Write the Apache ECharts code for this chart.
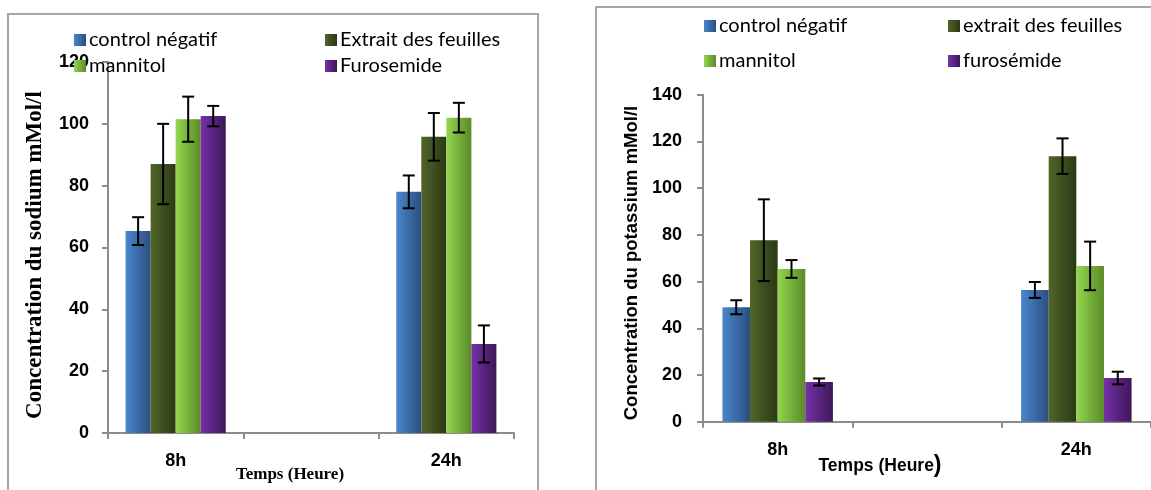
<!DOCTYPE html>
<html>
<head>
<meta charset="utf-8">
<script src="https://cdn.jsdelivr.net/npm/echarts@6/dist/echarts.min.js"></script>
<style>
  html, body { margin: 0; padding: 0; background: #fff; }
  #chart { width: 1151px; height: 490px; }
</style>
</head>
<body>
<div id="chart"></div>
<script>
// Time points (middle slot is an empty spacer category)
const categories = ['8h', '', '24h'];

// Sodium (mMol/l) — means and standard errors
const naControl   = [65.3, null, 78.0];
const naControlErr = [4.5, null, 5.3];
const naExtrait   = [87.0, null, 95.8];
const naExtraitErr = [13.0, null, 7.7];
const naMannitol  = [101.5, null, 102.0];
const naMannitolErr = [7.3, null, 4.8];
const naFuro      = [102.5, null, 28.8];
const naFuroErr   = [3.3, null, 6.0];

// Potassium (mMol/l) — means and standard errors
const kControl    = [49.0, null, 56.4];
const kControlErr = [3.0, null, 3.4];
const kExtrait    = [77.7, null, 113.7];
const kExtraitErr = [17.5, null, 7.6];
const kMannitol   = [65.4, null, 66.7];
const kMannitolErr = [3.8, null, 10.4];
const kFuro       = [17.0, null, 18.7];
const kFuroErr    = [1.5, null, 2.7];

const naNames = ['control négatif', 'Extrait des feuilles', 'mannitol', 'Furosemide'];
const kNames  = ['control négatif', 'extrait des feuilles', 'mannitol', 'furosémide'];

const naTicks = [0, 20, 40, 60, 80, 100, 120];
const kTicks  = [0, 20, 40, 60, 80, 100, 120, 140];

function grad(a, b) {
  return new echarts.graphic.LinearGradient(0, 0, 1, 0, [
    { offset: 0, color: a }, { offset: 1, color: b }
  ]);
}
const fills = [
  grad('#4a86cc', '#2a4f80'),
  grad('#506529', '#2b3914'),
  grad('#93d64e', '#5a8a28'),
  grad('#7531a8', '#3d1757')
];

const GAP = 0.26;
const axisGray = '#8c8c8c';
const legendFont = 'Lato, "Liberation Sans", sans-serif';
const sans = '"Liberation Sans", Arial, sans-serif';
const serif = '"Liberation Serif", "DejaVu Serif", serif';

function errorRows(errs, vals) {
  const rows = [];
  vals.forEach((v, s) => {
    v.forEach((val, c) => {
      if (val != null) rows.push([c, val, errs[s][c], s]);
    });
  });
  return rows;
}

function errorSeries(idx, rows) {
  return {
    type: 'custom',
    xAxisIndex: idx, yAxisIndex: idx,
    z: 5,
    silent: true,
    data: rows,
    encode: { x: 0, y: 1 },
    renderItem: function (params, api) {
      const c = api.value(0), v = api.value(1), e = api.value(2), s = api.value(3);
      const band = api.size([1, 0])[0];
      const bw = band * (1 - GAP) / 4;
      const x = api.coord([c, v])[0] + (s - 1.5) * bw;
      const yt = api.coord([c, v + e])[1];
      const yb = api.coord([c, v - e])[1];
      const h = 6;
      const st = { stroke: '#000', lineWidth: 2 };
      return {
        type: 'group',
        children: [
          { type: 'line', shape: { x1: x, y1: yt, x2: x, y2: yb }, style: st },
          { type: 'line', shape: { x1: x - h, y1: yt, x2: x + h, y2: yt }, style: st },
          { type: 'line', shape: { x1: x - h, y1: yb, x2: x + h, y2: yb }, style: st }
        ]
      };
    }
  };
}

function barSeries(idx, names, vals) {
  return vals.map((v, i) => ({
    type: 'bar',
    name: names[i],
    xAxisIndex: idx, yAxisIndex: idx,
    data: v,
    barGap: '0%',
    barCategoryGap: (GAP * 100) + '%',
    itemStyle: { color: fills[i] },
    emphasis: { disabled: true }
  }));
}

function legendItem(name, left, cy) {
  return {
    data: [name],
    left: left, top: cy - 10,
    padding: 0,
    itemWidth: 12, itemHeight: 12,
    icon: 'rect',
    selectedMode: false,
    textStyle: { fontFamily: legendFont, fontSize: 20, color: '#000', lineHeight: 20, padding: [0, 0, 0, -2] }
  };
}

function xAxis(idx) {
  return {
    type: 'category', gridIndex: idx, data: categories,
    axisLine: { lineStyle: { color: axisGray, width: 2 } },
    axisTick: { show: true, interval: 0, length: 6, lineStyle: { color: axisGray, width: 2 } },
    axisLabel: { interval: 0, margin: 19, fontFamily: sans, fontWeight: 'bold', fontSize: 18, color: '#000' }
  };
}

function yAxis(idx, ticks, margin) {
  return {
    type: 'value', gridIndex: idx,
    min: ticks[0], max: ticks[ticks.length - 1], interval: ticks[1] - ticks[0],
    splitLine: { show: false },
    axisLine: { show: true, lineStyle: { color: axisGray, width: 2 } },
    axisTick: { show: true, length: 6, lineStyle: { color: axisGray, width: 2 } },
    axisLabel: { margin: margin, fontFamily: sans, fontWeight: 'bold', fontSize: 18, color: '#000' }
  };
}

const naVals = [naControl, naExtrait, naMannitol, naFuro];
const naErrs = [naControlErr, naExtraitErr, naMannitolErr, naFuroErr];
const kVals = [kControl, kExtrait, kMannitol, kFuro];
const kErrs = [kControlErr, kExtraitErr, kMannitolErr, kFuroErr];

const chart = echarts.init(document.getElementById('chart'), null, { renderer: 'canvas' });
chart.setOption({
  animation: false,
  backgroundColor: '#fff',
  grid: [
    { left: 108, top: 62, width: 406, height: 371 },
    { left: 703, top: 94.7, width: 456, height: 327 }
  ],
  xAxis: [xAxis(0), xAxis(1)],
  yAxis: [yAxis(0, naTicks, 19), yAxis(1, kTicks, 21)],
  legend: [
    legendItem(naNames[0], 74, 40),
    legendItem(naNames[1], 325, 40),
    legendItem(naNames[2], 74, 66),
    legendItem(naNames[3], 325, 66),
    legendItem(kNames[0], 704, 26),
    legendItem(kNames[1], 948, 26),
    legendItem(kNames[2], 704, 61),
    legendItem(kNames[3], 948, 61)
  ],
  graphic: [
    { type: 'rect', z: -10, shape: { x: 8, y: 14, width: 530, height: 500 },
      style: { fill: 'none', stroke: '#a6a6a6', lineWidth: 2 } },
    { type: 'rect', z: -10, shape: { x: 596, y: 7, width: 600, height: 500 },
      style: { fill: 'none', stroke: '#a6a6a6', lineWidth: 2 } },
    { type: 'text', x: 35, y: 255, rotation: Math.PI / 2,
      style: { text: 'Concentration du sodium mMol/l', font: 'bold 23px ' + serif, fill: '#000',
               textAlign: 'center', textVerticalAlign: 'middle' } },
    { type: 'text', x: 290, y: 475,
      style: { text: 'Temps (Heure)', font: 'bold 17px ' + serif, fill: '#000',
               textAlign: 'center', textVerticalAlign: 'middle' } },
    { type: 'text', x: 632, y: 263, rotation: Math.PI / 2,
      style: { text: 'Concentration du potassium mMol/l', font: 'bold 18.5px ' + sans, fill: '#000',
               textAlign: 'center', textVerticalAlign: 'middle' } },
    { type: 'text', x: 880, y: 466,
      style: { text: '{a|Temps (Heure}{b|)}', fill: '#000', textAlign: 'center', textVerticalAlign: 'middle',
               rich: { a: { fontFamily: sans, fontWeight: 'bold', fontSize: 17.5 },
                       b: { fontFamily: sans, fontWeight: 'bold', fontSize: 23 } } } }
  ],
  series: [
    ...barSeries(0, naNames, naVals),
    ...barSeries(1, kNames, kVals),
    errorSeries(0, errorRows(naErrs, naVals)),
    errorSeries(1, errorRows(kErrs, kVals))
  ]
});
</script>
</body>
</html>
